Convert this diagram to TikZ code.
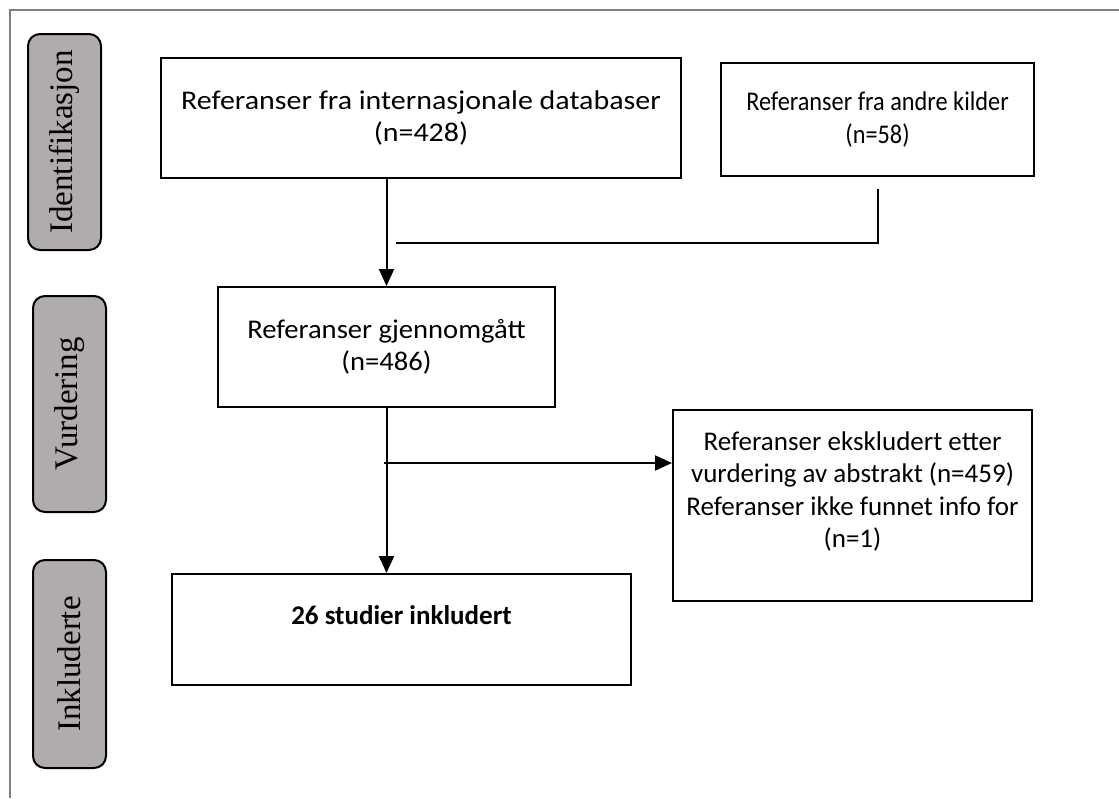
\documentclass[tikz,border=0pt]{standalone}
\usepackage{fontspec}
\setmainfont{Carlito}
\newfontfamily\sidefont{Liberation Serif}
\newfontfamily\wideA[FakeStretch=1.11]{Carlito}
\newfontfamily\narrowB[FakeStretch=0.90]{Carlito}
\newfontfamily\wideC[FakeStretch=1.06]{Carlito}
\usetikzlibrary{arrows.meta}
\definecolor{sidegray}{RGB}{176,172,172}
\definecolor{framegray}{RGB}{128,128,128}
\begin{document}
\begin{tikzpicture}[x=1pt,y=-1pt,
  box/.style={draw=black, line width=2pt, inner sep=0pt},
  txt/.style={align=center, inner sep=0pt},
  fs/.style={font=#1\fontsize{27}{32.5}\selectfont},
  side/.style={draw=black, line width=2pt, fill=sidegray, rounded corners=12pt,
    rotate=90, minimum height=73pt, inner sep=0pt,
    font=\sidefont\fontsize{33}{36}\selectfont},
  conn/.style={draw=black, line width=2pt},
  arr/.style={conn, -{Triangle[length=17pt,width=15pt]}}]
\useasboundingbox (0,0) rectangle (1119,798);
\draw[framegray, line width=1.4pt] (10,798) -- (10,10) -- (1119,10);

\node[side, minimum width=216pt] (s1) at (64.5,142) {Identifikasjon};
\node[side, minimum width=216pt] (s2) at (69.5,404) {Vurdering};
\node[side, minimum width=208pt] (s3) at (69.5,664) {Inkluderte};

\node[box, minimum width=520pt, minimum height=120pt] (b1) at (421,118) {};
\node[txt, fs=\wideA] (t1) at (b1.center) {Referanser fra internasjonale databaser\\(n=428)};

\node[box, minimum width=313pt, minimum height=113pt] (b2) at (877.5,119.5) {};
\node[txt, fs=\narrowB] (t2) at (b2.center) {Referanser fra andre kilder\\(n=58)};

\node[box, minimum width=337pt, minimum height=120pt] (b3) at (386.5,347) {};
\node[txt, fs=\wideC] (t3) at (b3.center) {Referanser gjennomgått\\(n=486)};

\node[box, minimum width=359pt, minimum height=191pt] (b5) at (852.5,505.5) {};
\node[txt, fs=\rmfamily] (t5) at ([yshift=14pt]b5.center) {Referanser ekskludert etter\\vurdering av abstrakt (n=459)\\Referanser ikke funnet info for\\(n=1)};

\node[box, minimum width=459pt, minimum height=111pt] (b4) at (401.5,629.5) {};
\node[txt, fs=\bfseries] (t4) at ([yshift=14pt]b4.center) {26 studier inkludert};

\coordinate (j) at (396,243);
\coordinate (k) at (384,463);
\draw[arr] (b3.north |- b1.south) -- (b3.north);
\draw[conn] ([yshift=-12pt]b2.south) |- (j);
\draw[arr] (b3.south) -- (b3.south |- b4.north);
\draw[arr] (k) -- (k -| b5.west);
\end{tikzpicture}
\end{document}
